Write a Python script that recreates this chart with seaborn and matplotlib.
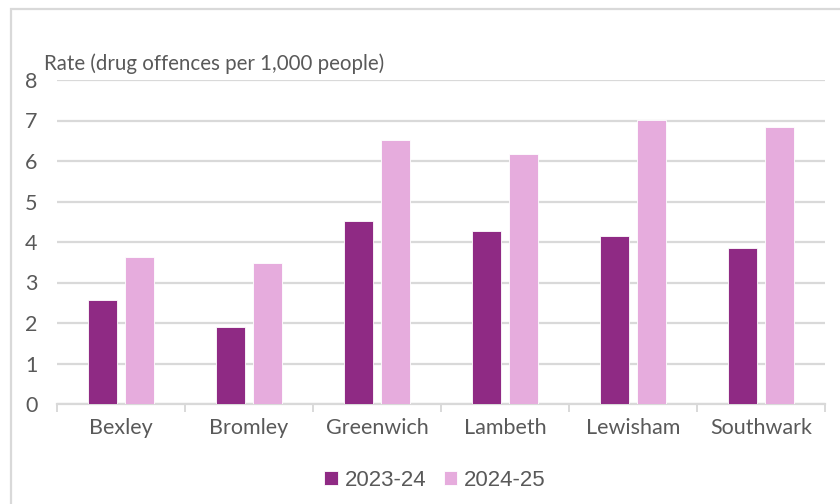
import matplotlib
matplotlib.use("Agg")
import matplotlib.pyplot as plt
import seaborn as sns
import pandas as pd
from matplotlib.patches import Rectangle

# Drug offence rates by borough
boroughs = ["Bexley", "Bromley", "Greenwich", "Lambeth", "Lewisham", "Southwark"]
years = ["2023-24", "2024-25"]
rate_2023_24 = [2.58, 1.91, 4.51, 4.26, 4.16, 3.85]
rate_2024_25 = [3.63, 3.47, 6.53, 6.17, 7.02, 6.83]
y_ticks = [0, 1, 2, 3, 4, 5, 6, 7, 8]

df = pd.DataFrame({
    "Borough": boroughs * 2,
    "Year": [years[0]] * len(boroughs) + [years[1]] * len(boroughs),
    "Rate": rate_2023_24 + rate_2024_25,
})

sns.set_theme(style="white")
plt.rcParams["font.family"] = ["Lato", "DejaVu Sans"]

text_col = "#595959"
grid_col = "#d9d9d9"
palette = {"2023-24": "#8f2a84", "2024-25": "#e6acdd"}

fig = plt.figure(figsize=(8.4, 5.04), dpi=100)
ax = fig.add_axes([57 / 840, 1 - 404 / 504, (825 - 57) / 840, (404 - 80) / 504])

sns.barplot(data=df, x="Borough", y="Rate", hue="Year", hue_order=years,
            palette=palette, width=0.58, gap=0.2, saturation=1,
            edgecolor="white", linewidth=0.6, ax=ax, legend=True, zorder=3)

ax.set_ylim(0, 8)
ax.set_xlim(-0.5, len(boroughs) - 0.5)
ax.set_yticks(y_ticks)
ax.yaxis.grid(True, color=grid_col, linewidth=1.6, zorder=0)
ax.set_axisbelow(True)
for side in ["left", "right", "top"]:
    ax.spines[side].set_visible(False)
ax.spines["bottom"].set_color(grid_col)
ax.spines["bottom"].set_linewidth(1.6)

ax.tick_params(axis="y", length=0, pad=14, labelsize=15.5, labelcolor=text_col)
ax.tick_params(axis="x", length=0, pad=10, labelsize=15.5, labelcolor=text_col)
# category separator ticks along the baseline
ax.set_xticks([i - 0.5 for i in range(len(boroughs) + 1)], minor=True)
ax.tick_params(axis="x", which="minor", length=6, width=1.4, color=grid_col, bottom=True)

ax.set_xlabel("")
ax.set_ylabel("")
ax.text(44 / 840, 1 - 64 / 504, "Rate (drug offences per 1,000 people)",
        transform=fig.transFigure, fontsize=14.8, color=text_col, va="center", ha="left")

handles, labels = ax.get_legend_handles_labels()
ax.legend(handles, labels, loc="center", bbox_to_anchor=(435 / 840, 1 - 480 / 504),
          bbox_transform=fig.transFigure, ncol=2, frameon=False,
          handlelength=0.6, handleheight=0.6, handletextpad=0.3, columnspacing=0.8,
          prop={"family": ["Liberation Sans", "DejaVu Sans"], "size": 16},
          labelcolor=text_col)

# chart frame
fig.patches.append(Rectangle((10.5 / 840, -0.1), 2.0, 1 - 8.5 / 504 + 0.1,
                             transform=fig.transFigure, fill=False,
                             edgecolor="#d9d9d9", linewidth=1.6))

fig.savefig("out.png", dpi=100)
